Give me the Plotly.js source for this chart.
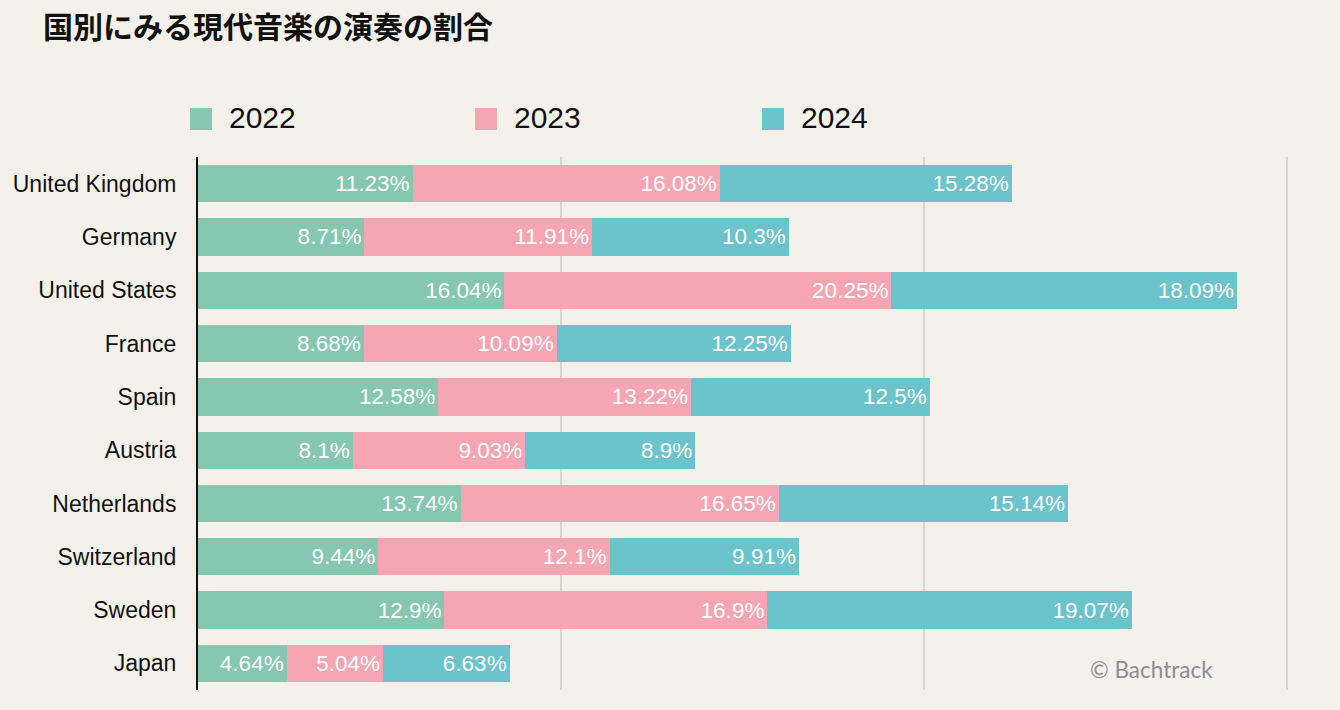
<!DOCTYPE html>
<html>
<head>
<meta charset="utf-8">
<script src="https://cdn.plot.ly/plotly-3.0.1.min.js"></script>
<style>
  html, body { margin: 0; padding: 0; background: #f4f1ea; }
  #chart { width: 1340px; height: 710px; }
</style>
</head>
<body>
<div id="chart"></div>
<script>
// Share of contemporary music performances by country (%)
const countries = ["United Kingdom", "Germany", "United States", "France", "Spain",
                   "Austria", "Netherlands", "Switzerland", "Sweden", "Japan"];
const years = ["2022", "2023", "2024"];
const values2022 = [11.23, 8.71, 16.04, 8.68, 12.58, 8.1, 13.74, 9.44, 12.9, 4.64];
const values2023 = [16.08, 11.91, 20.25, 10.09, 13.22, 9.03, 16.65, 12.1, 16.9, 5.04];
const values2024 = [15.28, 10.3, 18.09, 12.25, 12.5, 8.9, 15.14, 9.91, 19.07, 6.63];
const colors = ["#85c7b1", "#f5a6b2", "#6bc3cb"];

const seriesValues = [values2022, values2023, values2024];
const labelFont = '"Liberation Sans", Arial, Helvetica, sans-serif';

const traces = seriesValues.map((vals, i) => ({
  type: "bar",
  orientation: "h",
  name: years[i],
  y: countries,
  x: vals,
  text: vals.map(v => v + "%"),
  textposition: "inside",
  insidetextanchor: "end",
  constraintext: "none",
  textfont: { family: labelFont, size: 22.5, color: "#ffffff" },
  marker: { color: colors[i], line: { width: 0 } },
  hoverinfo: "y+name+text",
  showlegend: false
}));

// Plot area geometry (pixels) used to place the custom legend
const W = 1340, H = 710;
const M = { l: 198, r: 50, t: 157, b: 20 };
const plotW = W - M.l - M.r, plotH = H - M.t - M.b;
const px = x => (x - M.l) / plotW;
const py = y => (H - M.b - y) / plotH;

const legendX = [190, 475, 762];
const shapes = [];
const annotations = [];
years.forEach((yr, i) => {
  shapes.push({
    type: "rect", xref: "paper", yref: "paper",
    x0: px(legendX[i]), x1: px(legendX[i] + 22),
    y0: py(130), y1: py(108),
    fillcolor: colors[i], line: { width: 0 }
  });
  annotations.push({
    xref: "paper", yref: "paper",
    x: px(legendX[i] + 37), y: py(118),
    xanchor: "left", yanchor: "middle",
    text: yr, showarrow: false,
    font: { family: labelFont, size: 30, color: "#111111" }
  });
});
annotations.push({
  xref: "paper", yref: "paper",
  x: px(1088), y: py(669),
  xanchor: "left", yanchor: "middle",
  text: "© Bachtrack", showarrow: false,
  font: { family: "Lato, 'Open Sans', sans-serif", size: 22.5, color: "#8d8c99" }
});

const layout = {
  width: W, height: H,
  paper_bgcolor: "#f4f1ea",
  plot_bgcolor: "#f4f1ea",
  margin: M,
  barmode: "stack",
  bargap: 0.3,
  title: {
    text: "国別にみる現代音楽の演奏の割合",
    xref: "container", yref: "container",
    x: 43 / W, y: 1 - 27 / H,
    xanchor: "left", yanchor: "middle",
    font: { family: '"Noto Sans CJK JP", sans-serif', size: 30, weight: 700, color: "#111111" }
  },
  xaxis: {
    range: [0, 57.15],
    dtick: 19,
    tick0: 0,
    showgrid: true,
    gridcolor: "#d9d6d0",
    gridwidth: 1.5,
    zeroline: false,
    showticklabels: false,
    ticks: "",
    fixedrange: true
  },
  yaxis: {
    autorange: "reversed",
    showline: true,
    linecolor: "#111111",
    linewidth: 2,
    showgrid: false,
    ticks: "",
    ticklabelstandoff: 15,
    tickfont: { family: labelFont, size: 23, color: "#111111" },
    fixedrange: true
  },
  shapes: shapes,
  annotations: annotations,
  showlegend: false
};

Plotly.newPlot("chart", traces, layout, { displayModeBar: false, staticPlot: true });
</script>
</body>
</html>
